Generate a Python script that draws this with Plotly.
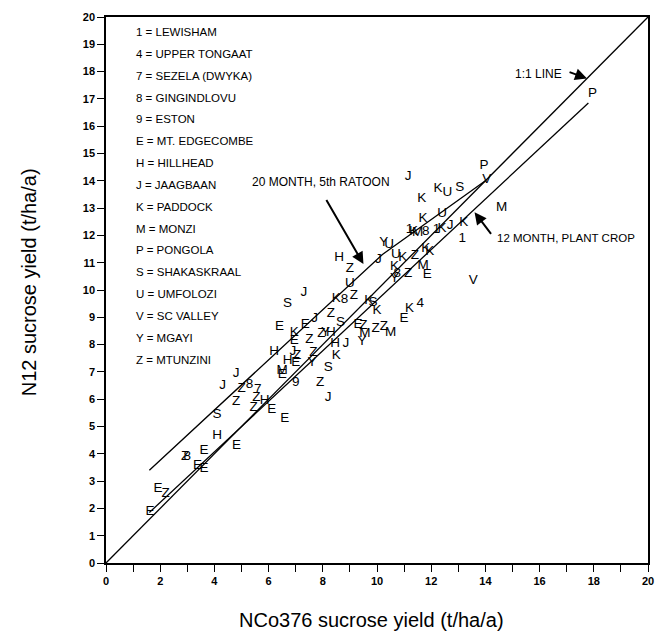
import plotly.graph_objects as go

# ---- data: site letter, NCo376 yield (x), N12 yield (y) ----
site_labels = [
    "P", "P", "V", "J", "K", "K", "U", "S", "U", "K", "M", "K", "1", "V",
    "1", "K", "M", "8", "K", "1", "K", "J",
    "Y", "U", "J", "U", "K", "Z", "K", "K", "8", "Z", "Y", "M", "E", "H", "Z",
    "U", "K", "8", "Z", "K", "S", "K", "S", "J", "Z", "J", "E", "E", "K", "E",
    "Z", "Z", "Y", "H", "S", "J", "H", "K", "S", "Z", "J", "Z", "Y",
    "E", "Z", "Y", "M", "Z", "Z", "M", "E", "K", "4",
    "H", "J", "Z", "H", "E", "M", "E", "9", "J", "J", "Z", "8", "7", "Z", "Z",
    "Z", "H", "E", "E", "S", "H", "E", "E", "Z", "8", "E", "E", "E", "Z", "E",
]
nco376_yield = [
    17.95, 13.95, 14.05, 11.15, 11.65, 12.25, 12.6, 13.05, 12.4, 11.7, 14.6, 13.2, 13.15, 13.55,
    11.2, 11.35, 11.5, 11.8, 11.8, 12.2, 12.4, 12.7,
    10.25, 10.45, 10.05, 10.7, 10.95, 11.4, 11.95, 10.65, 10.75, 11.15, 10.65, 11.7, 11.85, 8.6, 9.0,
    9.0, 8.5, 8.8, 9.15, 9.7, 9.85, 10.0, 6.7, 7.3, 8.3, 7.7, 7.35, 6.4, 6.95, 6.95,
    7.5, 7.95, 8.1, 8.3, 8.65, 8.85, 8.45, 8.5, 8.2, 7.9, 8.2, 7.65, 7.6,
    9.3, 9.5, 9.45, 9.55, 9.95, 10.25, 10.5, 11.0, 11.2, 11.6,
    6.2, 6.9, 7.05, 6.7, 7.0, 6.5, 6.5, 7.0, 4.8, 4.3, 5.0, 5.3, 5.6, 4.8, 5.55,
    5.45, 5.85, 6.12, 6.6, 4.1, 4.1, 4.82, 3.62, 2.92, 3.0, 3.38, 3.62, 1.92, 2.2, 1.62,
]
n12_yield = [
    17.2, 14.55, 14.05, 14.15, 13.35, 13.7, 13.55, 13.75, 12.8, 12.6, 13.0, 12.45, 11.9, 10.35,
    12.2, 12.15, 12.1, 12.15, 11.5, 12.2, 12.25, 12.35,
    11.75, 11.65, 11.1, 11.3, 11.2, 11.25, 11.4, 10.85, 10.6, 10.6, 10.4, 10.9, 10.55, 11.2, 10.8,
    10.25, 9.7, 9.65, 9.8, 9.6, 9.55, 9.25, 9.5, 9.9, 9.15, 8.95, 8.75, 8.65, 8.45, 8.15,
    8.2, 8.4, 8.45, 8.45, 8.8, 8.05, 8.05, 7.6, 7.15, 6.6, 6.05, 7.7, 7.35,
    8.75, 8.7, 8.1, 8.4, 8.6, 8.65, 8.45, 8.95, 9.3, 9.5,
    7.75, 7.75, 7.6, 7.4, 7.35, 7.05, 6.9, 6.6, 6.95, 6.5, 6.4, 6.55, 6.35, 5.9, 6.05,
    5.7, 5.95, 5.6, 5.3, 5.42, 4.65, 4.3, 4.12, 3.88, 3.88, 3.55, 3.45, 2.72, 2.55, 1.88,
]

# legend key text
key_codes = ["1", "4", "7", "8", "9", "E", "H", "J", "K", "M", "P", "S", "U", "V", "Y", "Z"]
key_names = ["LEWISHAM", "UPPER TONGAAT", "SEZELA (DWYKA)", "GINGINDLOVU", "ESTON",
             "MT. EDGECOMBE", "HILLHEAD", "JAAGBAAN", "PADDOCK", "MONZI", "PONGOLA",
             "SHAKASKRAAL", "UMFOLOZI", "SC VALLEY", "MGAYI", "MTUNZINI"]

# lines
one_to_one_x = [0, 20]
one_to_one_y = [0, 20]
ratoon_line_x = [1.6, 10.2, 14.0]
ratoon_line_y = [3.4, 11.3, 14.0]
plant_line_x = [1.6, 17.8]
plant_line_y = [1.85, 16.85]

x_ticks = list(range(0, 21, 2))
y_ticks = list(range(0, 21, 1))

SANS = "Liberation Sans, Arial, Helvetica, sans-serif"

fig = go.Figure()
line_style = dict(color="black", width=1.3)
for lx, ly in [(one_to_one_x, one_to_one_y), (ratoon_line_x, ratoon_line_y), (plant_line_x, plant_line_y)]:
    fig.add_trace(go.Scatter(x=lx, y=ly, mode="lines", line=line_style,
                             hoverinfo="skip", showlegend=False))

fig.add_trace(go.Scatter(
    x=nco376_yield, y=n12_yield, mode="text", text=site_labels,
    textposition="middle center",
    textfont=dict(family=SANS, size=13.5, color="#000000"),
    hoverinfo="skip", showlegend=False,
))

annotations = []
for i, (c, n) in enumerate(zip(key_codes, key_names)):
    annotations.append(dict(
        x=1.05, y=19.45 - 0.8 * i, xref="x", yref="y", xanchor="left", yanchor="middle",
        text=f"{c} = {n}", showarrow=False,
        font=dict(family=SANS, size=11.5, color="black"),
    ))

# annotation texts
annotations += [
    dict(x=7.95, y=13.95, xref="x", yref="y", text="20 MONTH, 5th RATOON", showarrow=False,
         font=dict(family=SANS, size=12, color="black")),
    dict(x=14.35, y=11.9, xref="x", yref="y", xanchor="left", text="12 MONTH, PLANT CROP",
         showarrow=False, font=dict(family=SANS, size=11.5, color="black")),
    dict(x=15.95, y=17.9, xref="x", yref="y", text="1:1 LINE", showarrow=False,
         font=dict(family=SANS, size=12, color="black")),
]
# arrows
arrow_common = dict(xref="x", yref="y", axref="x", ayref="y", text="", showarrow=True,
                    arrowhead=2, arrowsize=1.2, arrowwidth=2, arrowcolor="black")
annotations += [
    dict(x=9.5, y=10.95, ax=8.1, ay=13.35, **arrow_common),
    dict(x=13.6, y=12.85, ax=14.25, ay=12.0, **arrow_common),
    dict(x=17.75, y=17.75, ax=17.05, ay=18.0, **arrow_common),
]
# axis titles
annotations += [
    dict(x=0.49, y=-0.104, xref="paper", yref="paper", text="NCo376 sucrose yield (t/ha/a)",
         showarrow=False, yanchor="middle", font=dict(family=SANS, size=20, color="black")),
    dict(x=-0.143, y=0.515, xref="paper", yref="paper", text="N12 sucrose yield (t/ha/a)",
         showarrow=False, textangle=-90, xanchor="center",
         font=dict(family=SANS, size=20, color="black")),
]

axis_common = dict(range=[0, 20], showgrid=False, zeroline=False, showline=True,
                   linecolor="black", linewidth=1.5, mirror=True, ticks="outside",
                   ticklen=7, tickwidth=1.3, tickcolor="black",
                   tickfont=dict(family=SANS, size=11, color="black", weight="bold"))

fig.update_layout(
    width=667, height=637,
    margin=dict(l=106, r=19, t=17, b=74),
    paper_bgcolor="white", plot_bgcolor="white",
    xaxis=dict(tickvals=x_ticks, minor=dict(dtick=1, ticks="outside", ticklen=7,
                                             tickwidth=1.3, tickcolor="black"),
               **axis_common),
    yaxis=dict(tickvals=y_ticks, **axis_common),
    annotations=annotations,
    showlegend=False,
)

fig.write_html(
    "out.html",
    config={"displayModeBar": False},
    post_script="document.body.style.margin='0';document.body.style.overflow='hidden';",
)
